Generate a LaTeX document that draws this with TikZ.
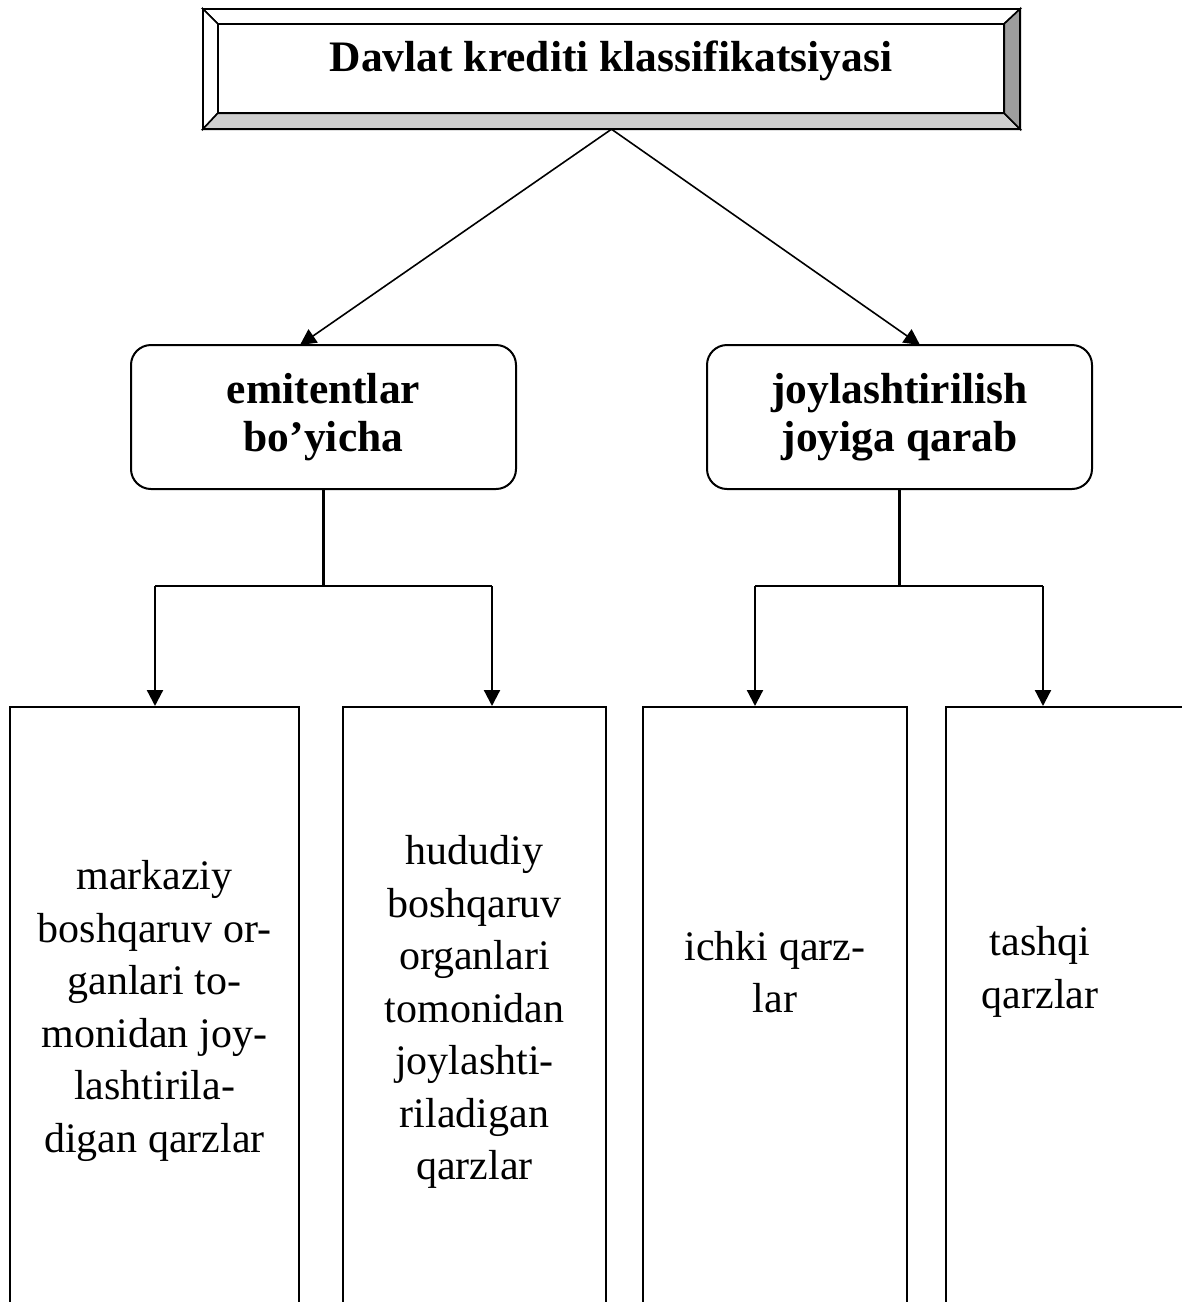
\documentclass[tikz,border=0pt]{standalone}
\usepackage{fontspec}
\setmainfont{Liberation Serif}
\usetikzlibrary{arrows.meta,calc}
\begin{document}
\begin{tikzpicture}[x=1pt,y=-1pt,
  line/.style={line width=2.2pt},
  arr/.style={line width=2.2pt,-{Triangle[width=16pt,length=16pt]}},
  thinarr/.style={line width=1.6pt,-{Triangle[width=16pt,length=16pt]}},
  roundbox/.style={draw,line width=2pt,rounded corners=20pt,minimum width=385pt,minimum height=144pt,inner sep=0pt,align=center,font=\fontsize{43.5}{48}\selectfont\bfseries},
  tallbox/.style={draw,line width=2.2pt,anchor=north,inner sep=0pt},
  bodytext/.style={align=center,font=\fontsize{42}{52.5}\selectfont,inner sep=0pt}]
\useasboundingbox (0,0) rectangle (1182,1302);
\clip (0,0) rectangle (1182,1302);
\fill[white] (0,0) rectangle (1182,1302);

% title bevel box
\node[minimum width=817pt,minimum height=120pt,inner sep=0pt] (title) at (611.5,69) {};
\coordinate (oTL) at (title.north west);
\coordinate (oTR) at (title.north east);
\coordinate (oBL) at (title.south west);
\coordinate (oBR) at (title.south east);
\coordinate (iTL) at ($(oTL)+(15,15)$);
\coordinate (iTR) at ($(oTR)+(-16,15)$);
\coordinate (iBL) at ($(oBL)+(15,-16)$);
\coordinate (iBR) at ($(oBR)+(-16,-16)$);
\filldraw[fill=white,line width=1.6pt] (oTL) -- (oTR) -- (iTR) -- (iTL) -- cycle;
\filldraw[fill=white,line width=1.6pt] (oTL) -- (iTL) -- (iBL) -- (oBL) -- cycle;
\filldraw[fill=black!19,line width=1.6pt] (oBL) -- (iBL) -- (iBR) -- (oBR) -- cycle;
\filldraw[fill=black!38,line width=1.6pt] (oTR) -- (oBR) -- (iBR) -- (iTR) -- cycle;
\draw[line width=2pt] (iTL) rectangle (iBR);
\draw[line width=2pt] (oTL) rectangle (oBR);
\node[font=\fontsize{43.5}{48}\selectfont\bfseries,inner sep=0pt] (titletext) at (611,61) {Davlat krediti klassifikatsiyasi};

% second level
\node[roundbox] (b1) at (323.5,417) {emitentlar\\bo’yicha};
\node[roundbox] (b2) at (899.5,417) {joylashtirilish\\joyiga qarab};

\coordinate (t1) at (300,345);
\coordinate (t2) at (920,345);
\draw[thinarr] (title.south) -- (t1);
\draw[thinarr] (title.south) -- (t2);

% bottom boxes
\node[tallbox,minimum width=289pt,minimum height=640pt] (c1) at (154.5,706) {};
\node[tallbox,minimum width=263pt,minimum height=640pt] (c2) at (474.5,706) {};
\node[tallbox,minimum width=264pt,minimum height=640pt] (c3) at (775,706) {};
\node[tallbox,minimum width=290pt,minimum height=640pt] (c4) at (1091,706) {};

\node[bodytext] (x1) at (154.5,1011) {markaziy\\boshqaruv or-\\ganlari to-\\monidan joy-\\lashtirila-\\digan qarzlar};
\node[bodytext] (x2) at (474.5,1012) {hududiy\\boshqaruv\\organlari\\tomonidan\\joylashti-\\riladigan\\qarzlar};
\node[bodytext] (x3) at (775,972) {ichki qarz-\\lar};
\node[bodytext] (x4) at (1040,972) {tashqi\\qarzlar};

% tree connectors
\coordinate (j1) at (323.5,586);
\coordinate (j2) at (899.5,586);
\coordinate (l1) at (155,586);
\coordinate (r1) at (492,586);
\coordinate (l2) at (755,586);
\coordinate (r2) at (1043,586);
\draw[line] (b1.south) -- (j1);
\draw[line] (b2.south) -- (j2);
\draw[line] (l1) -- (r1);
\draw[line] (l2) -- (r2);
\draw[arr] (l1) -- (l1 |- c1.north);
\draw[arr] (r1) -- (r1 |- c2.north);
\draw[arr] (l2) -- (l2 |- c3.north);
\draw[arr] (r2) -- (r2 |- c4.north);
\end{tikzpicture}
\end{document}
